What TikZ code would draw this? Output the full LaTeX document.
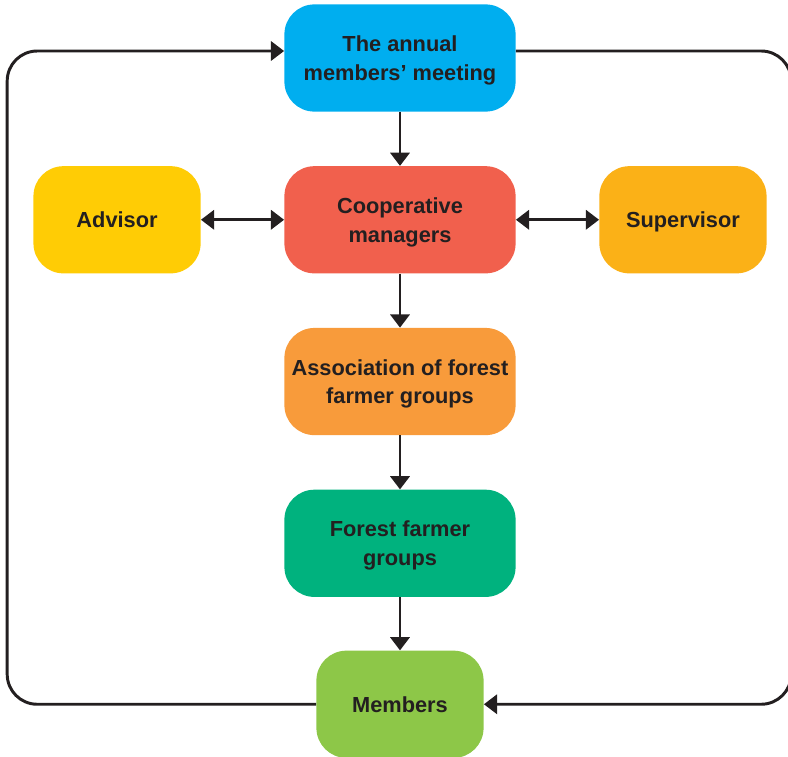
\documentclass[tikz,border=0pt]{standalone}
\usepackage{fontspec}
\setmainfont{Liberation Sans}
\usepackage{xcolor}
\usetikzlibrary{arrows.meta,calc,positioning}
\definecolor{meetblue}{HTML}{00AEEF}
\definecolor{mgrred}{HTML}{F1604D}
\definecolor{advyellow}{HTML}{FFCC05}
\definecolor{supamber}{HTML}{FBB117}
\definecolor{assocorange}{HTML}{F89B3B}
\definecolor{grpgreen}{HTML}{00B27E}
\definecolor{membgreen}{HTML}{8DC748}
\definecolor{ink}{HTML}{231F20}

\begin{document}
\begin{tikzpicture}[
node distance=1.35cm,
box/.style={rounded corners=0.75cm, align=center, text=ink,
  font=\bfseries\fontsize{15.5}{20.5}\selectfont, text depth=0pt,
  minimum width=5.78cm, minimum height=2.68cm, inner sep=2pt},
side/.style={box, minimum width=4.18cm},
arr/.style={-{Triangle[length=3.3mm,width=4.8mm]}, line width=2.1pt, draw=ink},
darr/.style={arr, {Triangle[length=3.3mm,width=4.8mm]}-{Triangle[length=3.3mm,width=4.8mm]}}
]
\useasboundingbox (-10.0,1.45) rectangle (9.7,-17.45);
\node[box, fill=meetblue] (meet) at (0,0) {The annual\\members’ meeting};
\node[box, fill=mgrred, below=of meet] (mgr) {Cooperative\\managers};
\node[side, fill=advyellow, left=2.08cm of mgr] (adv) {Advisor};
\node[side, fill=supamber, right=2.08cm of mgr] (sup) {Supervisor};
\node[box, fill=assocorange, below=of mgr] (assoc) {Association of forest\\farmer groups};
\node[box, fill=grpgreen, below=of assoc] (grp) {Forest farmer\\groups};
\node[side, fill=membgreen, below=1.33cm of grp] (memb) {Members};
\draw[arr] (meet) -- (mgr);
\draw[arr] (mgr) -- (assoc);
\draw[arr] (assoc) -- (grp);
\draw[arr] (grp) -- (memb);
\draw[darr] (adv) -- (mgr);
\draw[darr] (mgr) -- (sup);
% feedback loop round both sides
\coordinate (loopL) at (-9.82,0.175);
\coordinate (loopR) at (9.78,0.175);
\draw[arr, rounded corners=0.75cm] (memb.west) -| (loopL) -- (meet.west |- loopL);
\draw[arr, rounded corners=0.75cm] (meet.east |- loopR) -- (loopR) |- (memb.east);
\end{tikzpicture}
\end{document}
